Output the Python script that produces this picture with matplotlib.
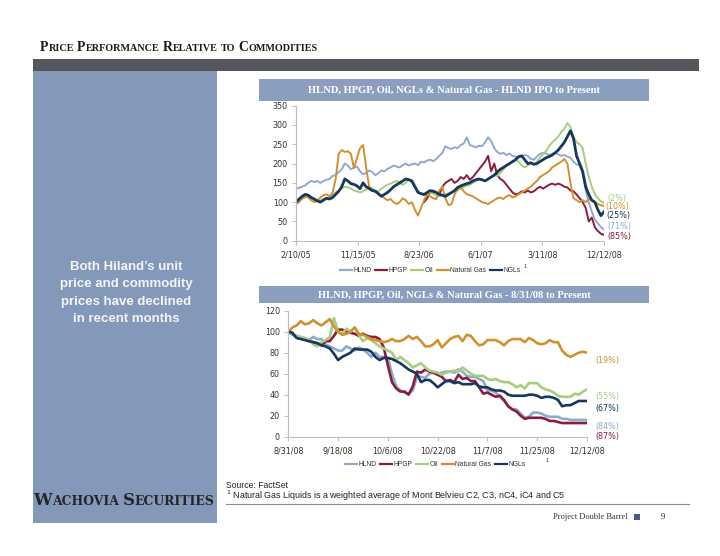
import numpy as np
import matplotlib
matplotlib.use("Agg")
import matplotlib.pyplot as plt
from matplotlib.patches import Rectangle
from matplotlib.lines import Line2D

# ---------------- data ----------------
series_names = ["HLND", "HPGP", "Oil", "Natural Gas", "NGLs"]
series_colors = ["#8faad1", "#8c1c3c", "#a5cf7f", "#d4902f", "#17375e"]

# Top chart: HLND IPO to present (indexed, 100 = start)
top_tick_labels = ["2/10/05", "11/15/05", "8/23/06", "6/1/07", "3/11/08", "12/12/08"]
top_hlnd = [135, 137, 140, 143, 150, 155, 152, 155, 150, 155, 158,
            160, 168, 170, 178, 185, 200, 195, 185, 190, 192,
            180, 172, 176, 182, 178, 170, 175, 182, 180, 186,
            190, 195, 192, 190, 196, 200, 195, 198, 200, 196,
            205, 203, 208, 210, 206, 212, 220, 228, 245, 240,
            238, 242, 240, 248, 252, 268, 248, 245, 242, 246,
            245, 255, 268, 258, 240, 230, 225, 228, 222, 226,
            220, 218, 215, 218, 222, 220, 212, 210, 218, 225,
            228, 226, 222, 225, 228, 224, 220, 222, 218, 215,
            205, 198, 195, 175, 130, 100, 75, 55, 45, 35, 29]
top_hpgp_start = 42
top_hpgp = [100, 110, 125, 130, 125, 120, 140, 150, 155,
            160, 150, 155, 165, 160, 170, 158, 165, 175, 185,
            195, 205, 220, 180, 200, 170, 160, 155, 145, 135,
            125, 120, 122, 128, 125, 130, 125, 128, 135, 140,
            135, 140, 145, 148, 145, 148, 145, 140, 138, 130,
            128, 120, 110, 100, 85, 50, 60, 35, 25, 18, 15]
top_oil = [100, 104, 108, 112, 115, 110, 106, 104, 105, 108, 110,
           112, 118, 125, 130, 135, 140, 138, 135, 130, 128,
           125, 128, 132, 140, 135, 130, 128, 135, 140, 145,
           148, 152, 155, 150, 145, 150, 160, 150, 140, 130,
           122, 118, 120, 125, 122, 118, 115, 118, 120, 122,
           125, 128, 130, 135, 140, 142, 145, 150, 155, 160,
           158, 155, 160, 165, 170, 168, 175, 185, 195, 200,
           205, 210, 205, 195, 190, 195, 200, 198, 205, 215,
           225, 232, 245, 255, 262, 270, 282, 290, 305, 295,
           270, 255, 250, 240, 200, 165, 140, 120, 110, 102, 98]
top_gas = [95, 100, 110, 115, 112, 105, 100, 105, 112, 118, 120,
           115, 125, 160, 225, 235, 230, 232, 225, 188, 215,
           240, 248, 190, 140, 130, 128, 120, 118, 110, 105,
           108, 100, 95, 100, 110, 105, 95, 100, 80, 65,
           85, 105, 120, 115, 110, 108, 130, 140, 110, 92,
           95, 120, 135, 140, 128, 120, 118, 115, 110, 105,
           100, 98, 95, 100, 105, 110, 112, 108, 115, 118,
           112, 115, 120, 125, 130, 135, 140, 148, 155, 165,
           170, 175, 180, 190, 195, 200, 205, 212, 200, 150,
           110, 105, 100, 105, 100, 108, 105, 100, 95, 92, 90]
top_ngl = [100, 108, 115, 120, 118, 112, 108, 103, 100, 105, 110,
           108, 112, 120, 128, 140, 160, 155, 148, 146, 142,
           135, 150, 140, 135, 130, 128, 122, 115, 120, 125,
           132, 140, 145, 150, 155, 160, 158, 155, 140, 125,
           122, 120, 125, 130, 128, 125, 120, 118, 115, 120,
           125, 130, 138, 142, 145, 148, 150, 155, 158, 160,
           158, 155, 160, 165, 170, 178, 185, 190, 195, 200,
           205, 210, 218, 220, 210, 200, 202, 198, 200, 205,
           210, 215, 218, 222, 228, 235, 245, 255, 270, 285,
           265, 220, 200, 180, 140, 120, 105, 100, 80, 65, 75]
top_end_labels = ["(2%)", "(10%)", "(25%)", "(71%)", "(85%)"]

# Bottom chart: 8/31/08 to present
bot_tick_labels = ["8/31/08", "9/18/08", "10/6/08", "10/22/08", "11/7/08", "11/25/08", "12/12/08"]
bot_hlnd = [100, 97, 96, 95, 93, 92, 95, 93, 93, 88, 86, 84, 82, 82, 86, 84, 82, 85, 83, 80,
            76, 80, 76, 76, 75, 60, 48, 44, 42, 41, 44, 57, 57, 56, 60, 61, 60, 61, 62, 62,
            61, 64, 62, 58, 57, 57, 55, 53, 44, 44, 42, 38, 34, 29, 26, 26, 22, 18, 19, 23,
            23, 22, 20, 19, 19, 19, 17, 17, 16, 16, 16, 16, 16]
bot_hpgp = [100, 98, 95, 94, 93, 91, 90, 89, 87, 91, 91, 96, 102, 102, 100, 99, 98, 96, 98, 96,
            95, 95, 93, 85, 68, 52, 46, 43, 43, 40, 48, 62, 61, 64, 62, 61, 59, 57, 53, 54,
            52, 59, 55, 56, 53, 53, 47, 41, 42, 40, 38, 39, 35, 29, 26, 24, 20, 17, 18, 18,
            18, 18, 17, 15, 15, 14, 13, 13, 13, 13, 13, 13, 13]
bot_oil = [100, 98, 96, 95, 94, 92, 88, 86, 90, 92, 95, 113, 100, 98, 103, 100, 104, 97, 91, 94,
           92, 89, 86, 84, 82, 80, 73, 76, 73, 70, 66, 68, 70, 66, 63, 62, 61, 59, 61, 62,
           63, 62, 66, 63, 60, 58, 58, 58, 55, 54, 55, 53, 52, 52, 50, 47, 49, 46, 51, 51,
           51, 47, 45, 44, 42, 39, 38, 38, 38, 41, 40, 43, 45]
bot_gas = [100, 104, 106, 110, 107, 108, 111, 108, 106, 109, 112, 105, 100, 97, 98, 100, 104, 98, 97, 95,
           93, 92, 91, 90, 91, 93, 91, 91, 93, 96, 93, 95, 91, 86, 86, 88, 92, 85, 89, 93,
           95, 96, 91, 97, 96, 91, 87, 88, 92, 92, 92, 90, 87, 91, 93, 93, 93, 90, 94, 92,
           89, 88, 89, 92, 90, 90, 82, 78, 76, 78, 80, 81, 80]
bot_ngl = [100, 99, 94, 93, 92, 91, 90, 89, 87, 86, 84, 79, 73, 76, 78, 80, 84, 83, 83, 83,
           81, 76, 73, 75, 75, 74, 72, 70, 67, 64, 62, 60, 52, 54, 54, 51, 47, 50, 53, 53,
           51, 52, 50, 50, 50, 51, 48, 47, 47, 45, 44, 44, 43, 40, 39, 39, 39, 39, 40, 40,
           39, 37, 38, 38, 37, 35, 29, 30, 30, 32, 34, 34, 34]
bot_end_labels = ["(84%)", "(87%)", "(55%)", "(19%)", "(67%)"]

# ---------------- figure ----------------
W, H = 720, 556
fig = plt.figure(figsize=(7.2, 5.56), dpi=100)


def fx(x):
    return x / W


def fy(y):
    return 1 - y / H


def rect(x0, y0, x1, y1, color, z=0):
    fig.add_artist(Rectangle((fx(x0), fy(y1)), (x1 - x0) / W, (y1 - y0) / H,
                             transform=fig.transFigure, facecolor=color,
                             edgecolor="none", zorder=z))


def hline(x0, x1, y, color, lw):
    fig.add_artist(Line2D([fx(x0), fx(x1)], [fy(y), fy(y)], transform=fig.transFigure,
                          color=color, lw=lw))


renderer = fig.canvas.get_renderer()


def small_caps(x0, ybase, words, big, small, target_w, **kw):
    # words: list of (word, n_big_leading_letters)
    def build(scale):
        arts = []
        x = x0
        for wi, (word, nb) in enumerate(words):
            if wi > 0:
                x += 0.32 * small * scale * 100 / 72
            for txt, sz in ((word[:nb], big), (word[nb:], small)):
                if not txt:
                    continue
                t = fig.text(fx(x), fy(ybase), txt, fontsize=sz * scale,
                             ha="left", va="baseline", **kw)
                x += t.get_window_extent(renderer).width
                arts.append(t)
        return arts, x - x0
    arts, w = build(1.0)
    for a in arts:
        a.remove()
    build(target_w / w)


# title and decorative bar
small_caps(40, 51, [("PRICE", 1), ("PERFORMANCE", 1), ("RELATIVE", 1), ("TO", 0),
                    ("COMMODITIES", 1)], 8.5, 6.3, 276,
           family="Liberation Serif", weight="bold", color="#1a1a1a")
rect(33, 59, 699, 71, "#55575c")
# left blue panel
rect(33, 71, 217, 523, "#8499b9")
for i, line in enumerate(["Both Hiland\u2019s unit", "price and commodity",
                          "prices have declined", "in recent months"]):
    fig.text(fx(126), fy(267 + i * 17.3), line, ha="center", va="center",
             fontsize=9.5, family="Liberation Sans", weight="bold", color="#f4f4f4")
small_caps(33, 505, [("WACHOVIA", 1), ("SECURITIES", 1)], 11, 8.2, 182,
           family="DejaVu Serif", weight="bold", color="#262626")

# chart header bars
rect(259, 79, 649, 101, "#8a9ec0")
fig.text(fx(454), fy(90.5), "HLND, HPGP, Oil, NGLs & Natural Gas - HLND IPO to Present",
         ha="center", va="center", fontsize=7.6, family="Liberation Serif",
         weight="bold", color="white")
rect(259, 286, 649, 303, "#8a9ec0")
fig.text(fx(454), fy(295), "HLND, HPGP, Oil, NGLs & Natural Gas - 8/31/08 to Present",
         ha="center", va="center", fontsize=7.6, family="Liberation Serif",
         weight="bold", color="white")


def style_axes(ax):
    for s in ["top", "right"]:
        ax.spines[s].set_visible(False)
    for s in ["left", "bottom"]:
        ax.spines[s].set_color("#bfbfbf")
        ax.spines[s].set_linewidth(0.8)
    ax.tick_params(axis="both", colors="#bfbfbf", labelcolor="#333333",
                   labelsize=5.8, length=3, width=0.8)
    ax.tick_params(axis="y", pad=3)
    ax.tick_params(axis="x", pad=4)
    ax.patch.set_alpha(0)


# ---- top chart ----
ax1 = fig.add_axes([fx(296), fy(240.7), (604 - 296) / W, 135 / H])
n_top = len(top_hlnd)
x_top = np.arange(n_top)
x_hpgp = np.arange(top_hpgp_start, top_hpgp_start + len(top_hpgp))
top_data = [(x_top, top_hlnd), (x_hpgp, top_hpgp), (x_top, top_oil), (x_top, top_gas), (x_top, top_ngl)]
for (xs, ys), c, nm in zip(top_data, series_colors, series_names):
    ax1.plot(xs, ys, color=c, lw=2.0 if nm == "NGLs" else 1.4, solid_joinstyle="round")
ax1.set_xlim(0, n_top - 1)
ax1.set_ylim(0, 350)
ax1.set_yticks(range(0, 351, 50))
ax1.set_xticks(np.linspace(0, n_top - 1, len(top_tick_labels)))
ax1.set_xticklabels(top_tick_labels)
style_axes(ax1)

top_label_pos = [(607, 199), (605, 207), (606, 215.5), (607, 226.5), (607, 237)]
top_label_cols = ["#a5cf7f", "#d4902f", "#17375e", "#8faad1", "#8c1c3c"]
for (px, py), lab, c in zip(top_label_pos, top_end_labels, top_label_cols):
    fig.text(fx(px), fy(py), lab, color=c, fontsize=5.8, ha="left", va="center")

# ---- bottom chart ----
ax2 = fig.add_axes([fx(288.3), fy(436.7), (587 - 288.3) / W, 126 / H])
n_bot = len(bot_hlnd)
x_bot = np.arange(n_bot)
for ys, c in zip([bot_hlnd, bot_hpgp, bot_oil, bot_gas, bot_ngl], series_colors):
    ax2.plot(x_bot, ys, color=c, lw=1.9, solid_joinstyle="round")
ax2.set_xlim(0, n_bot - 1)
ax2.set_ylim(0, 120)
ax2.set_yticks(range(0, 121, 20))
ax2.set_xticks(np.linspace(0, n_bot - 1, len(bot_tick_labels)))
ax2.set_xticklabels(bot_tick_labels)
style_axes(ax2)

bot_label_pos = [(595, 426), (595, 436), (595, 396), (595, 361), (595, 408)]
for (px, py), lab, c in zip(bot_label_pos, bot_end_labels, series_colors):
    fig.text(fx(px), fy(py), lab, color=c, fontsize=5.8, ha="left", va="center")


# ---- legends (sequential layout, centred) ----
def legend(xc, y, sup_gap):
    fs = 4.9
    seg, gap_t, gap_i = 12, 1.5, 3.5

    def build(x0):
        arts = []
        x = x0
        for nm, c in zip(series_names, series_colors):
            ln = Line2D([fx(x), fx(x + seg)], [fy(y), fy(y)], transform=fig.transFigure,
                        color=c, lw=1.6)
            fig.add_artist(ln)
            arts.append(ln)
            x += seg + gap_t
            t = fig.text(fx(x), fy(y), nm, fontsize=fs, ha="left", va="center",
                         color="#333333", family="Liberation Sans")
            x += t.get_window_extent(renderer).width + gap_i
            arts.append(t)
        return arts, x - gap_i
    arts, xe = build(0)
    for a in arts:
        a.remove()
    w = xe
    x0 = xc - w / 2
    _, xend = build(x0)
    fig.text(fx(xend + sup_gap), fy(y - 3), "1", fontsize=fs * 0.8, ha="left", va="center",
             color="#333333", family="Liberation Sans")


legend(430, 270, 3)
legend(435, 464, 20)

# ---- footer ----
fig.text(fx(226), fy(485), "Source: FactSet", fontsize=6.2, family="Liberation Sans",
         ha="left", va="center", color="#222222")
fig.text(fx(226), fy(496), "$^1$ Natural Gas Liquids is a weighted average of Mont Belvieu C2, C3, nC4, iC4 and C5",
         fontsize=6.4, family="Liberation Sans", ha="left", va="center", color="#222222")
hline(226, 689, 503.5, "#8c8c8c", 0.8)
fig.text(fx(628), fy(517), "Project Double Barrel", fontsize=6.0, family="Liberation Serif",
         ha="right", va="center", color="#333333")
rect(634, 514, 640, 520, "#3e5f86")
fig.text(fx(661), fy(517), "9", fontsize=6.4, family="Liberation Serif",
         ha="left", va="center", color="#333333")

fig.savefig("out.png", dpi=100)
